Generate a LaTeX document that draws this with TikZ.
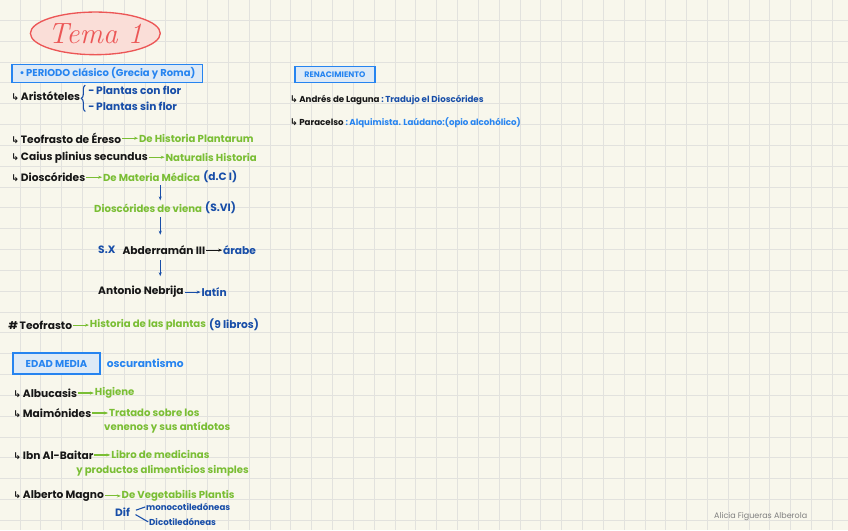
\documentclass[tikz,border=0pt]{standalone}
\usepackage{fontspec}
\usepackage{xcolor}
\usepackage{tikz}
\usetikzlibrary{arrows.meta, positioning, shapes.geometric, decorations.pathreplacing}

\newfontfamily\hand{Poppins}
\newfontfamily\symb{DejaVu Sans}
\newcommand{\hookarr}{{\symb\fontsize{7}{7}\selectfont ↳}\,}

\definecolor{paper}{RGB}{248,247,236}
\definecolor{gridgray}{RGB}{226,226,222}
\definecolor{ink}{RGB}{22,22,22}
\definecolor{leaf}{RGB}{122,190,52}
\definecolor{navy}{RGB}{24,78,168}
\definecolor{sky}{RGB}{38,132,240}
\definecolor{skyfill}{RGB}{222,234,246}
\definecolor{rosso}{RGB}{236,86,86}
\definecolor{rosa}{RGB}{250,222,216}

\begin{document}
\begin{tikzpicture}[x=0.75pt, y=-0.75pt,
  node distance=0pt and 12pt,
  person/.style={anchor=west, inner sep=0.5pt, text=ink, font={\hand\bfseries\fontsize{8}{9}\selectfont}},
  work/.style={anchor=west, inner sep=0.5pt, text=leaf, font={\hand\bfseries\fontsize{7.6}{9}\selectfont}},
  note/.style={anchor=west, inner sep=0.5pt, text=navy, font={\hand\bfseries\fontsize{8}{9}\selectfont}},
  small/.style={font={\hand\bfseries\fontsize{6.5}{8}\selectfont}},
  period/.style={draw=sky, fill=skyfill, line width=1.2pt, anchor=west, inner sep=1pt, text=sky, font={\hand\bfseries\fontsize{7.5}{9}\selectfont}},
  title/.style={draw=rosso, fill=rosa, ellipse, line width=1pt, inner xsep=-3pt, inner ysep=-2pt, text=rosso, minimum width=97.5pt, minimum height=32pt, font=\fontsize{22}{22}\selectfont\itshape},
  arrow/.style={-{Stealth[length=3pt]}, thick}
]

% paper and grid
\fill[paper] (0,0) rectangle (848,530);
\foreach \k in {0,...,39}
  \draw[gridgray, line width=0.6pt] ({19.6+20.85*\k},0) -- ({19.6+20.85*\k},530);
\foreach \k in {0,...,24}
  \draw[gridgray, line width=0.6pt] (0,{20+20.85*\k}) -- (848,{20+20.85*\k});
\useasboundingbox (0,0) rectangle (848,530);

% Title
\node[title] (tema) at (95,33) {Tema 1};

% Periodo clasico
\node[period, minimum width=143pt, minimum height=13.5pt] (clasico) at (11,73) {•\,PERIODO clásico (Grecia y Roma)};

\node[person] (aristo) at (10,96) {\hookarr Aristóteles};
\node[note] (conflor) at (87,90) {-\,Plantas con flor};
\node[note] (sinflor) at (87,106) {-\,Plantas sin flor};
\draw[navy, thick, decorate, decoration={brace, amplitude=3pt}] ([xshift=-1.5pt]sinflor.south west) -- ([xshift=-1.5pt]conflor.north west);

\node[person] (ereso) at (10,138) {\hookarr Teofrasto de Éreso};
\node[work, right=of ereso] (plantarum) {De Historia Plantarum};
\draw[arrow, leaf] (ereso) -- (plantarum);

\node[person] (plinio) at (10,157) {\hookarr Caius plinius secundus};
\node[work, right=of plinio] (naturalis) {Naturalis Historia};
\draw[arrow, leaf] (plinio) -- (naturalis);

\node[person] (diosc) at (10,177) {\hookarr Dioscórides};
\node[work, right=of diosc] (materia) {De Materia Médica};
\node[note, right=1pt of materia] (dc) {(d.C I)};
\draw[arrow, leaf] (diosc) -- (materia);

% Chain of translations
\coordinate (stem) at (160,0);
\node[work] (viena) at (93,208) {Dioscórides de viena};
\node[note, right=1pt of viena] (svi) {(S.VI)};
\draw[arrow, navy, shorten <=2pt, shorten >=2pt] (materia.south -| stem) -- (viena.north -| stem);

\node[note] (sx) at (97,250) {S.X};
\node[person, right=4pt of sx] (abder) {Abderramán III};
\node[note, right=of abder] (arabe) {árabe};
\draw[arrow, navy, shorten <=3pt, shorten >=8pt] (viena.south -| stem) -- (sx.north -| stem);
\draw[arrow, ink] (abder) -- (arabe);

\node[person] (nebrija) at (97,292) {Antonio Nebrija};
\node[note, right=of nebrija] (latin) {latín};
\draw[arrow, navy, shorten <=4pt, shorten >=7pt] (sx.south -| stem) -- (nebrija.north -| stem);
\draw[arrow, navy] (nebrija) -- (latin);

\node[person] (teofrasto) at (7,325) {\#\,Teofrasto};
\node[work, right=of teofrasto] (historia) {Historia de las plantas};
\node[note, right=1pt of historia] (libros) {(9 libros)};
\draw[arrow, leaf] (teofrasto) -- (historia);

% Edad media
\node[period, minimum width=65pt, minimum height=15.75pt] (media) at (12,363.5) {EDAD MEDIA};
\node[note, text=sky, right=4pt of media] (oscuro) {oscurantismo};

\node[person] (albucasis) at (12,393) {\hookarr Albucasis};
\node[work, right=of albucasis] (higiene) {Higiene};
\draw[arrow, leaf] (albucasis) -- (higiene);

\node[person] (maimo) at (12,413) {\hookarr Maimónides};
\node[work, right=of maimo] (tratado) {Tratado sobre los};
\node[work] (venenos) at (103,428) {venenos y sus antídotos};
\draw[arrow, leaf] (maimo) -- (tratado);

\node[person] (baitar) at (12,455) {\hookarr Ibn Al-Baitar};
\node[work, right=of baitar] (libro) {Libro de medicinas};
\node[work] (simples) at (75,471) {y productos alimenticios simples};
\draw[arrow, leaf] (baitar) -- (libro);

\node[person] (magno) at (12,496) {\hookarr Alberto Magno};
\node[work, right=of magno] (vegetab) {De Vegetabilis Plantis};
\draw[arrow, leaf] (magno) -- (vegetab);
\node[note] (dif) at (114,512) {Dif};
\node[note, small] (mono) at (145,507) {monocotiledóneas};
\node[note, small] (dico) at (148,522) {Dicotiledóneas};
\draw[navy, thick, shorten <=4pt] (dif.east) -- (mono.west);
\draw[navy, thick, shorten <=4pt] (dif.east) -- (dico.west);

% Renacimiento
\node[period, minimum width=60pt, minimum height=12pt, font={\hand\bfseries\fontsize{6}{7}\selectfont}] (renac) at (294,74) {RENACIMIENTO};

\node[person, small] (laguna) at (289,100) {\hookarr Andrés de Laguna};
\node[note, small, right=0pt of laguna] (tradujo) {:\,Tradujo el Dioscórides};

\node[person, small] (paracelso) at (289,122) {\hookarr Paracelso};
\node[note, small, text=sky, right=0pt of paracelso] (alqui) {:\,Alquimista. Laúdano:(opio alcohólico)};

% firma
\node[text=gray, font={\hand\fontsize{6}{7}\selectfont}] (firma) at (761,517) {Alicia Figueras Alberola};

\end{tikzpicture}
\end{document}
